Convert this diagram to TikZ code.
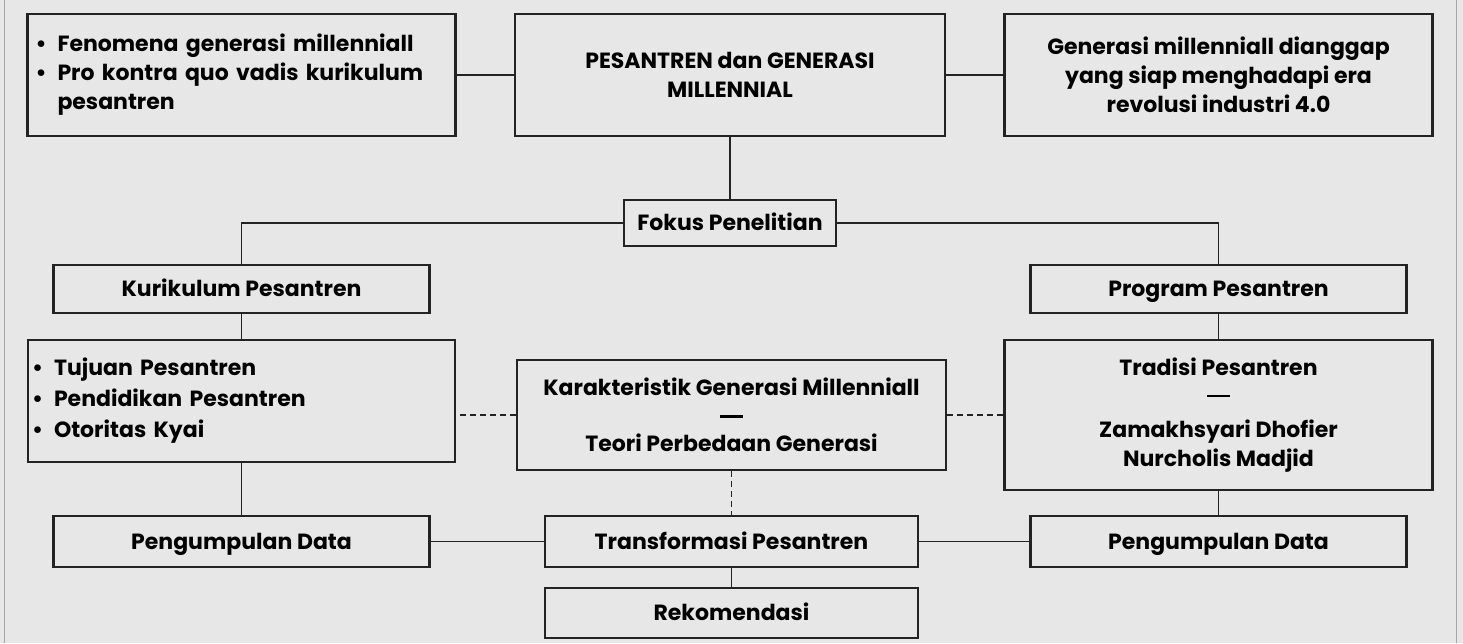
\documentclass[tikz,border=0pt]{standalone}
\usepackage{fontspec}
\setmainfont{Poppins}
\definecolor{bgc}{RGB}{231,231,231}
\definecolor{edge}{RGB}{35,35,35}
\tikzset{
  box/.style={draw=edge, line width=2.2pt, inner sep=0pt, align=center,
    font=\bfseries\fontsize{22}{29}\selectfont},
  one/.style={box, text height=15.5pt, text depth=0pt},
  conn/.style={line width=1.1pt, draw=edge},
  dconn/.style={conn, dash pattern=on 6pt off 4pt},
}
\newcommand{\bul}{\makebox[22pt][l]{\textbullet}}
\newcommand{\dsh}{\rule[2pt]{23pt}{2.8pt}}
\begin{document}
\begin{tikzpicture}[x=1pt,y=-1pt]
\useasboundingbox (0,0) rectangle (1463,643);
\fill[bgc] (0,0) rectangle (1463,643);
\draw[gray!70, line width=1pt] (4,0) -- (4,643);
\draw[gray!70, line width=1pt] (1456,0) -- (1456,643);
% top row
\node[box, minimum width=428pt, minimum height=122pt, text width=412pt, align=left] (tl) at (241.5,75)
  {\bul Fenomena generasi millenniall\\ \bul Pro kontra quo vadis kurikulum\\ \hspace*{22pt}pesantren};
\node[box, minimum width=430pt, minimum height=122pt] (tc) at (730,75)
  {PESANTREN dan GENERASI\\ MILLENNIAL};
\node[box, minimum width=428pt, minimum height=122pt] (tr) at (1218.5,75)
  {Generasi millenniall dianggap\\ yang siap menghadapi era\\ revolusi industri 4.0};
% fokus
\node[one, minimum width=212pt, minimum height=46pt] (fokus) at (730,223) {Fokus Penelitian};
\node[one, minimum width=376pt, minimum height=48pt] (kur) at (241.5,289) {Kurikulum Pesantren};
\node[one, minimum width=376pt, minimum height=48pt] (prog) at (1218.5,289) {Program Pesantren};
% middle row
\node[box, minimum width=427pt, minimum height=122pt, text width=419pt, align=left] (lb) at (241.5,401)
  {\bul Tujuan Pesantren\\[2pt] \bul Pendidikan Pesantren\\[2pt] \bul Otoritas Kyai};
\node[box, minimum width=429pt, minimum height=110pt] (kar) at (731.5,415)
  {Karakteristik Generasi Millenniall\\[-5pt] \dsh\\[3pt] Teori Perbedaan Generasi};
\node[box, minimum width=428pt, minimum height=150pt] (trad) at (1218.5,415)
  {Tradisi Pesantren\\[-5pt] \dsh\\[9pt] Zamakhsyari Dhofier\\ Nurcholis Madjid};
% bottom row
\node[one, minimum width=376pt, minimum height=51pt] (pd1) at (241.5,541.5) {Pengumpulan Data};
\node[one, minimum width=373pt, minimum height=51pt] (trans) at (731.5,541.5) {Transformasi Pesantren};
\node[one, minimum width=376pt, minimum height=51pt] (pd2) at (1218.5,541.5) {Pengumpulan Data};
\node[one, minimum width=373pt, minimum height=50pt] (rek) at (731.5,613) {Rekomendasi};
% connectors
\draw[conn] (tl.east) -- (tc.west);
\draw[conn] (tc.east) -- (tr.west);
\draw[conn] (tc.south) -- (fokus.north);
\draw[conn] (fokus.west) -| (kur.north);
\draw[conn] (fokus.east) -| (prog.north);
\draw[conn] (kur.south) -- (lb.north);
\draw[conn] (prog.south) -- (trad.north);
\draw[conn] (lb.south) -- (pd1.north);
\draw[conn] (trad.south) -- (pd2.north);
\draw[dconn] (kar.west) -- (kar.west -| lb.east);
\draw[dconn] (kar.east) -- (trad.west);
\draw[dconn] (kar.south) -- (trans.north);
\draw[conn] (pd1.east) -- (trans.west);
\draw[conn] (trans.east) -- (pd2.west);
\draw[conn] (trans.south) -- (rek.north);
\end{tikzpicture}
\end{document}
